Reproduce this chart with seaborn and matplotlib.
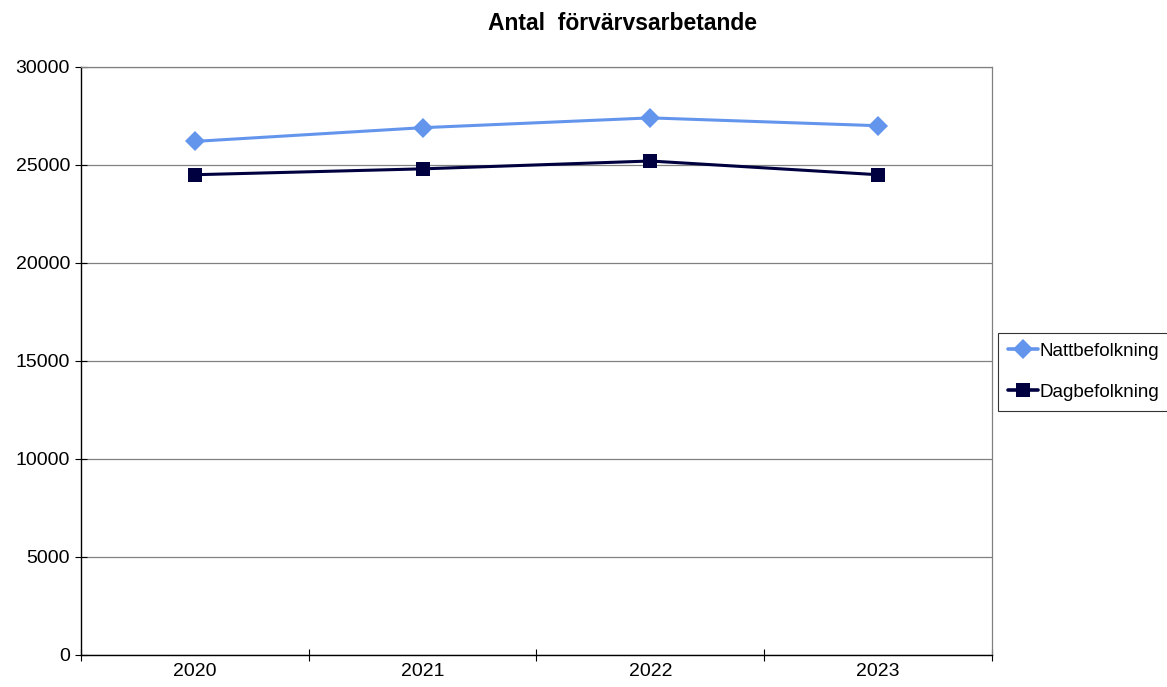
import pandas as pd
import seaborn as sns
import matplotlib.pyplot as plt
from matplotlib.ticker import MultipleLocator, FixedLocator, NullFormatter

years = ['2020', '2021', '2022', '2023']
natt = [26200, 26900, 27400, 27000]
dag = [24500, 24800, 25200, 24500]
series = ['Nattbefolkning', 'Dagbefolkning']

df = pd.DataFrame({
    'pos': list(range(len(years))) * 2,
    'value': natt + dag,
    'series': [series[0]] * len(years) + [series[1]] * len(years),
})

sns.set_style('white')
plt.rcParams['font.family'] = ['Liberation Sans', 'DejaVu Sans']
plt.rcParams['text.color'] = 'black'
plt.rcParams['xtick.color'] = 'black'
plt.rcParams['ytick.color'] = 'black'

fig = plt.figure(figsize=(11.67, 6.87), dpi=100)
ax = fig.add_axes([0.0694, 0.0466, 0.7806, 0.856])

sns.lineplot(data=df, x='pos', y='value', hue='series', style='series',
             palette={series[0]: '#6495ED', series[1]: '#000040'},
             markers={series[0]: 'D', series[1]: 's'}, dashes=False,
             linewidth=2.2, markersize=10, markeredgewidth=0, ax=ax)

ax.set_xlim(-0.5, len(years) - 0.5)
ax.set_ylim(0, 30000)
ax.yaxis.set_major_locator(MultipleLocator(5000))
ax.grid(axis='y', color='#808080', linewidth=0.9)
ax.set_axisbelow(True)

ax.xaxis.set_major_locator(FixedLocator([i - 0.5 for i in range(len(years) + 1)]))
ax.xaxis.set_major_formatter(NullFormatter())
ax.xaxis.set_minor_locator(FixedLocator(list(range(len(years)))))
ax.set_xticklabels(years, minor=True)
ax.tick_params(axis='x', which='major', bottom=True, direction='inout', length=8, width=0.8)
ax.tick_params(axis='x', which='minor', bottom=True, length=0, labelsize=14, pad=6)
ax.tick_params(axis='y', left=True, direction='inout', length=8, width=0.8, labelsize=14, pad=4)
ax.set_xlabel('')
ax.set_ylabel('')

for side in ['left', 'bottom']:
    ax.spines[side].set_color('black')
    ax.spines[side].set_linewidth(1.0)
for side in ['top', 'right']:
    ax.spines[side].set_color('#808080')
    ax.spines[side].set_linewidth(0.9)

fig.text(0.533, 0.966, 'Antal  förvärvsarbetande', ha='center', va='center',
         fontsize=16.5, fontweight='bold')

leg = ax.legend(loc='center left', bbox_to_anchor=(0.855, 0.459),
                bbox_transform=fig.transFigure, frameon=True, fancybox=False,
                edgecolor='black', fontsize=13.5, handlelength=1.6,
                handletextpad=0.05, labelspacing=1.25, borderpad=0.55,
                borderaxespad=0)
leg.get_frame().set_linewidth(0.8)
for h in leg.legend_handles:
    h.set_markersize(10)
    h.set_linewidth(2.6)

fig.savefig('out.png', dpi=100)
